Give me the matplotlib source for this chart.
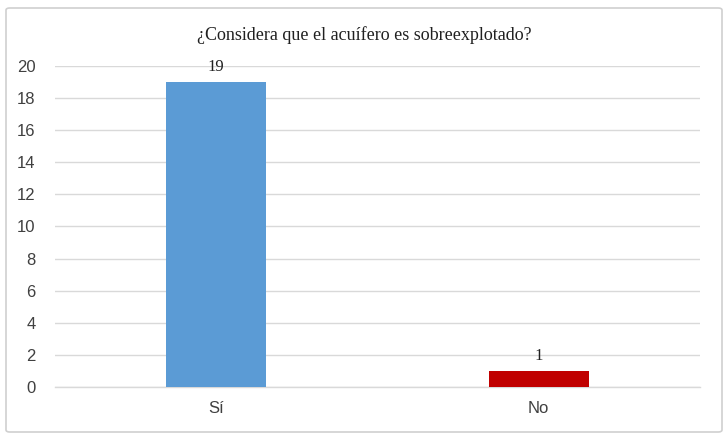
import matplotlib
matplotlib.use("Agg")
import matplotlib.pyplot as plt
from matplotlib.patches import FancyBboxPatch

categories = ["Sí", "No"]
values = [19, 1]
colors = ["#5B9BD5", "#C00000"]
yticks = [0, 2, 4, 6, 8, 10, 12, 14, 16, 18, 20]
title = "¿Considera que el acuífero es sobreexplotado?"

fig = plt.figure(figsize=(7.28, 4.4), dpi=100)
fig.patch.set_facecolor("white")
border = FancyBboxPatch((6/728, 8/440), 716/728, 424/440,
                        boxstyle="round,pad=0,rounding_size=0.005",
                        transform=fig.transFigure, facecolor="none",
                        edgecolor="#D0D0D0", linewidth=1.2, zorder=5)
fig.patches.append(border)

ax = fig.add_axes([55/728, 1-387/440, 645/728, (387-66)/440])
ax.set_facecolor("none")
x = range(len(categories))
bars = ax.bar(x, values, width=0.31, color=colors, zorder=3)
ax.set_xlim(-0.5, 1.5)
ax.set_ylim(0, 20)
ax.set_yticks(yticks)
ax.yaxis.grid(True, color="#D9D9D9", linewidth=1.0, zorder=0)
ax.set_axisbelow(True)
for s in ["top", "right", "left"]:
    ax.spines[s].set_visible(False)
ax.spines["bottom"].set_color("#D9D9D9")
ax.spines["bottom"].set_linewidth(1.0)
ax.tick_params(axis="both", length=0, labelsize=12, labelcolor="#404040")
ax.tick_params(axis="y", pad=14)
ax.tick_params(axis="x", pad=10)
ax.set_xticks(list(x))
ax.set_xticklabels(categories, fontfamily="Liberation Sans")
for lbl in ax.get_yticklabels():
    lbl.set_fontfamily("Liberation Sans")

for xi, v in zip(x, values):
    ax.annotate(str(v), (xi, v), xytext=(0, 5), textcoords="offset points",
                ha="center", va="bottom", fontsize=12,
                fontfamily="Liberation Serif", color="#202020")

fig.text(364/728, 1-35/440, title, ha="center", va="center",
         fontsize=13, fontfamily="Liberation Serif", color="#202020")

fig.savefig("out.png", dpi=100)
